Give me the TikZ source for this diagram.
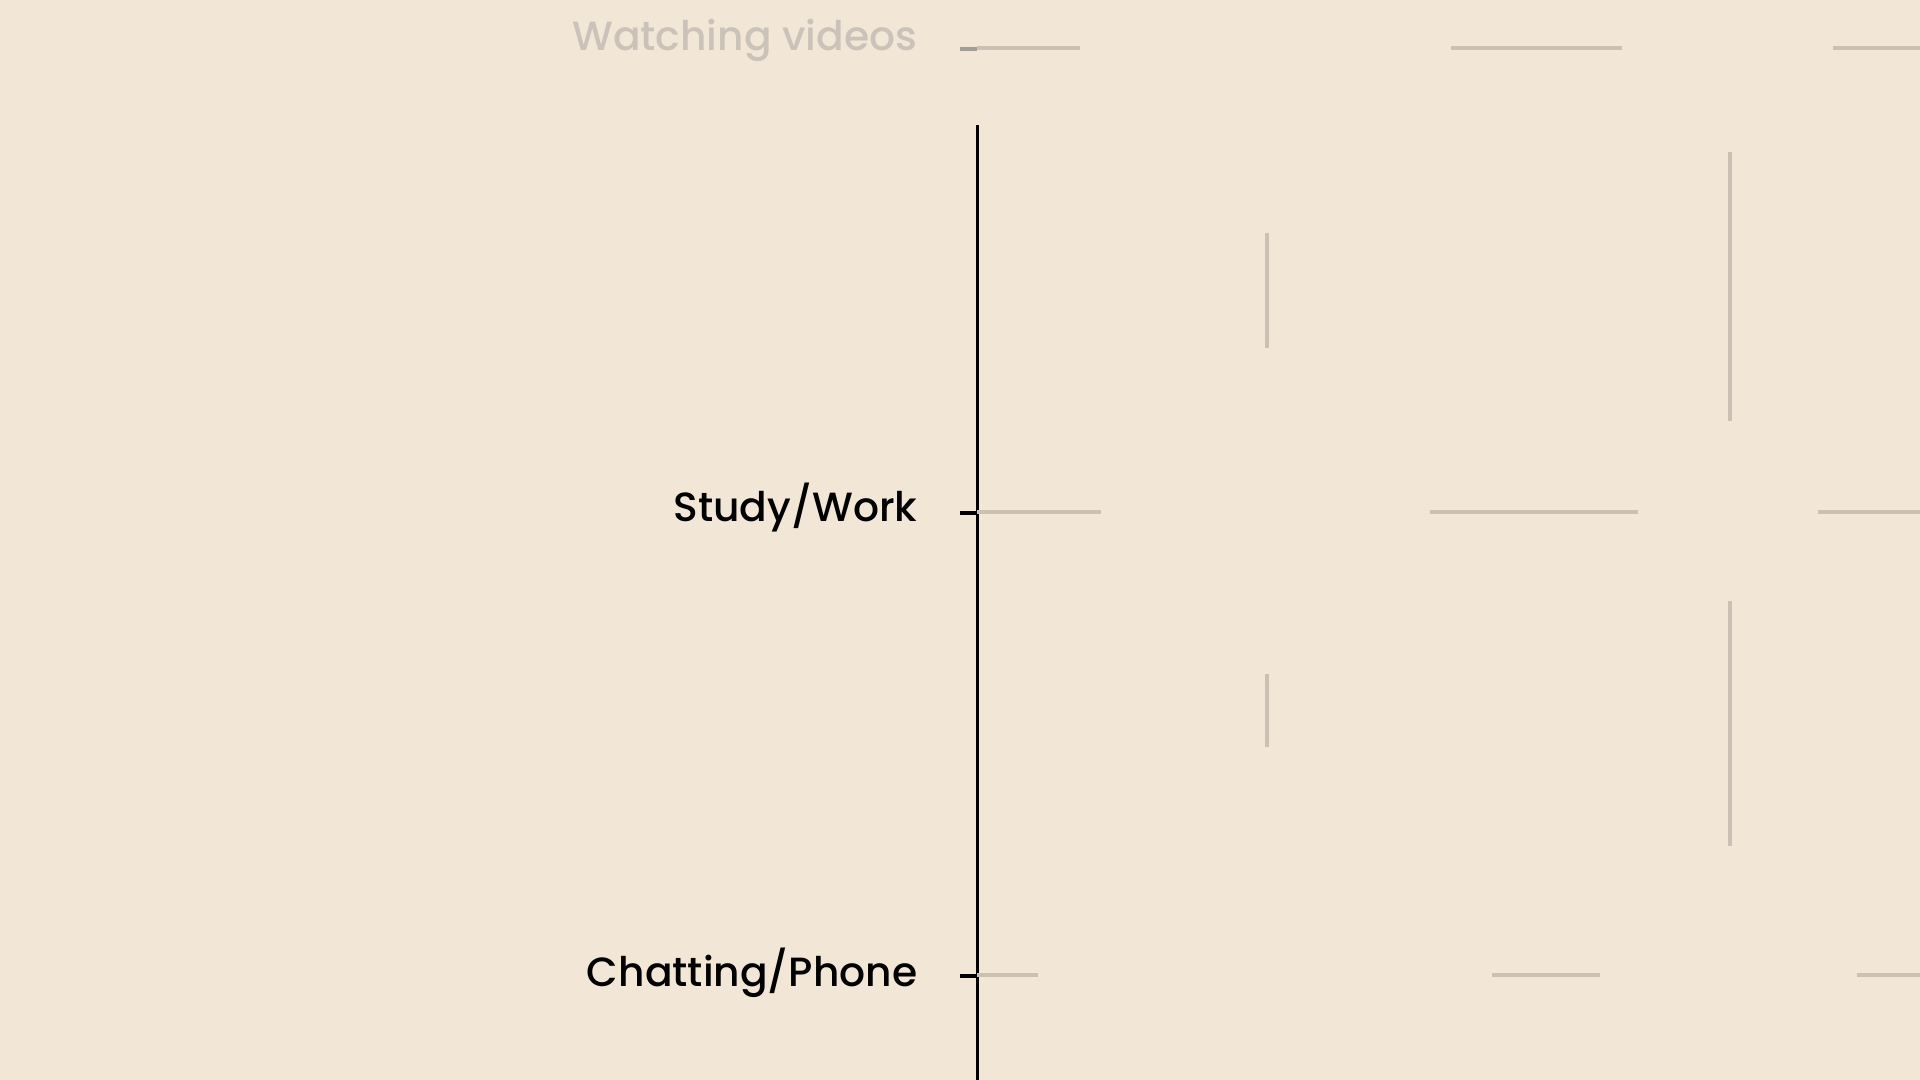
\documentclass[tikz,border=0pt]{standalone}
\usepackage{fontspec}
\setmainfont{Poppins}[UprightFont={* Medium}]
\definecolor{paper}{HTML}{F2E6D6}
\definecolor{gridgray}{HTML}{CAC0B4}
\definecolor{fadegray}{HTML}{CBC3B9}
\begin{document}
\begin{tikzpicture}[x=0.01cm,y=-0.01cm,
   rowlabel/.style={anchor=base east,inner sep=0pt,font=\fontsize{11.6pt}{14pt}\selectfont},
   gridline/.style={gridgray,line width=0.9pt},
   tickmark/.style={black,line width=1.1pt}]
   \fill[paper] (0,0) rectangle (1920,1080);
   \useasboundingbox (0,0) rectangle (1920,1080);
   \node[rowlabel,text=fadegray] (videos) at (918,51) {Watching videos};
   \node[rowlabel] (study) at (918,522) {Study/Work};
   \node[rowlabel] (chat) at (918,987) {Chatting/Phone};
   \coordinate (axistop) at (977,125);
   \coordinate (axisbot) at (977,1080);
   \draw[black,line width=0.85pt] (axistop)--(axisbot);
   \coordinate (tv) at (960,49);
   \coordinate (ts) at (960,513);
   \coordinate (tc) at (960,976);
   \draw[tickmark,draw=fadegray!80!black] (tv)--++(17,0);
   \draw[tickmark] (ts)--++(17,0);
   \draw[tickmark] (tc)--++(17,0);
   % horizontal grid pieces
   \draw[gridline] (977,48)--(1080,48);
   \draw[gridline] (1451,48)--(1622,48);
   \draw[gridline] (1833,48)--(1920,48);
   \draw[gridline] (977,512)--(1101,512);
   \draw[gridline] (1430,512)--(1638,512);
   \draw[gridline] (1818,512)--(1920,512);
   \draw[gridline] (977,975)--(1038,975);
   \draw[gridline] (1492,975)--(1600,975);
   \draw[gridline] (1857,975)--(1920,975);
   % vertical grid pieces
   \draw[gridline] (1267,233)--(1267,348);
   \draw[gridline] (1267,674)--(1267,747);
   \draw[gridline] (1730,152)--(1730,421);
   \draw[gridline] (1730,601)--(1730,846);
\end{tikzpicture}
\end{document}
